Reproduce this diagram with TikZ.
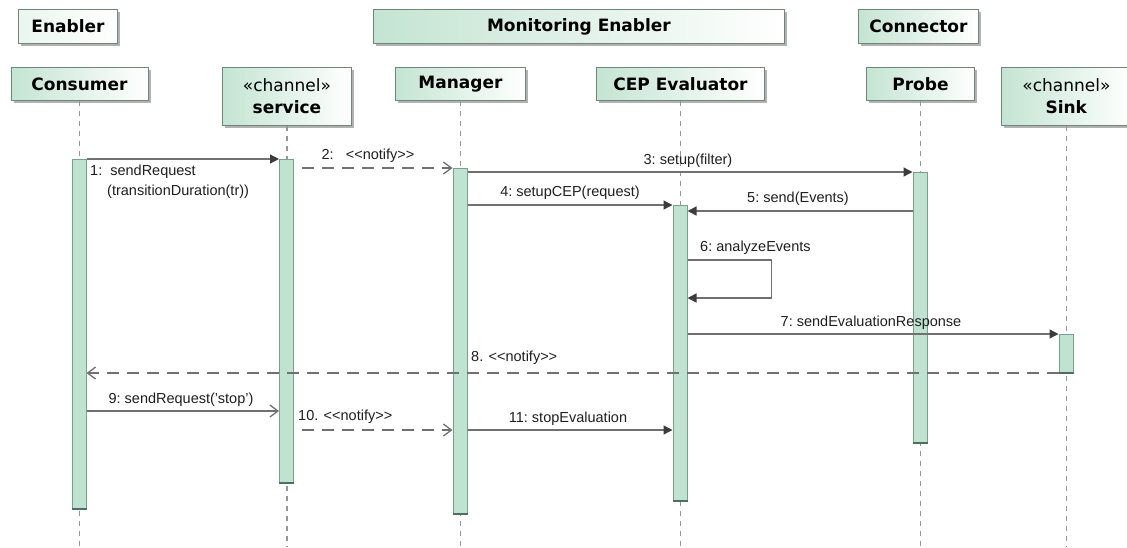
\documentclass[tikz,border=0pt]{standalone}
\usepackage{fontspec}
\setmainfont{Liberation Sans}
\newfontfamily\hdrfont{DejaVu Sans}
\usetikzlibrary{arrows.meta,shadows,calc}
\definecolor{actfill}{RGB}{192,226,208}
\definecolor{actdraw}{RGB}{120,160,140}
\definecolor{actbotc}{RGB}{80,110,95}
\definecolor{boxgreen}{RGB}{196,228,210}
\definecolor{boxdraw}{RGB}{110,135,120}
\definecolor{linegray}{RGB}{112,112,112}
\definecolor{lifegray}{RGB}{150,150,150}
\definecolor{tipgray}{RGB}{60,60,60}
\newcommand{\ntf}{<\kern0pt<\kern0pt notify>\kern0pt>}
\begin{document}
\begin{tikzpicture}[x=1pt,y=-1pt,
  hbox/.style={draw=boxdraw, line width=0.9pt, left color=boxgreen, right color=white,
    drop shadow={shadow xshift=3pt,shadow yshift=-3pt,fill=black!30,opacity=1},
    inner sep=0pt, anchor=north west, align=center,
    font=\hdrfont\fontsize{17}{22}\selectfont},
  gbox/.style={hbox, left color=boxgreen!35},
  life/.style={draw=lifegray, line width=1.4pt, dash pattern=on 5pt off 5pt},
  act/.style={draw=actdraw, fill=actfill, line width=1pt, inner sep=0pt,
    minimum width=14pt, anchor=north},
  actbot/.style={draw=actbotc, line width=1.6pt},
  msg/.style={draw=linegray, line width=1.3pt,
    -{Triangle[length=9pt,width=9pt,fill=tipgray,color=tipgray]}},
  ret/.style={draw=linegray, line width=1.3pt, dash pattern=on 12pt off 8pt,
    -{Straight Barb[length=8pt,width=12pt,line width=1.3pt]}},
  call/.style={draw=linegray, line width=1.3pt,
    -{Straight Barb[length=8pt,width=12pt,line width=1.3pt]}},
  lbl/.style={font=\fontsize{14.5}{17}\selectfont, text=black!88, inner sep=0pt}]
\useasboundingbox (0,0) rectangle (1127,547);
\fill[white] (0,0) rectangle (1127,547);

% group boxes
\node[gbox, minimum width=99pt, minimum height=34pt] (gEn) at (18,9) {\textbf{Enabler}};
\node[hbox, minimum width=411pt, minimum height=34pt] (gMon) at (373,9) {\textbf{Monitoring Enabler}};
\node[hbox, minimum width=120pt, minimum height=34pt] (gCon) at (858,9) {\textbf{Connector}};

% lifeline heads
\node[hbox, minimum width=137pt, minimum height=33pt] (hCons) at (10.5,67) {\textbf{Consumer}};
\node[hbox, minimum width=129pt, minimum height=58pt] (hServ) at (222,67) {«channel»\\\textbf{service}};
\node[hbox, minimum width=130pt, minimum height=33pt] (hMgr) at (395,67) {\textbf{Manager}};
\node[hbox, minimum width=168pt, minimum height=33pt] (hCep) at (596,67) {\textbf{CEP Evaluator}};
\node[hbox, minimum width=108pt, minimum height=33pt] (hProbe) at (866,67) {\textbf{Probe}};
\node[hbox, minimum width=130pt, minimum height=58pt] (hSink) at (1001,67) {«channel»\\\textbf{Sink}};

% lifelines
\coordinate (bot) at (0,547);
\foreach \h in {hCons,hServ,hMgr,hCep,hProbe,hSink}
  \draw[life] (\h.south) -- (\h.south |- bot);

% activations
\node[act, minimum height=349pt] (aCons) at (79,159) {};
\node[act, minimum height=323pt] (aServ) at (286.5,159) {};
\node[act, minimum height=345pt] (aMgr) at (460,168) {};
\node[act, minimum height=295pt] (aCep) at (680,205) {};
\node[act, minimum height=270pt] (aProbe) at (920,172) {};
\node[act, minimum height=38pt] (aSink) at (1066,334) {};
\foreach \a in {aCons,aServ,aMgr,aCep,aProbe,aSink}
  \draw[actbot] (\a.south west) -- (\a.south east);

% message levels
\coordinate (y5) at (0,211);
\coordinate (y6a) at (0,260);
\coordinate (y6b) at (0,298);
\coordinate (y9) at (0,411);
\coordinate (y10) at (0,430);

% messages
\draw[msg] (aCons.north east) -- (aServ.north west);
\draw[ret, dash phase=12pt] (aServ.east |- aMgr.north) -- (aMgr.north west);
\draw[msg] (aMgr.east |- aProbe.north) -- (aProbe.north west);
\draw[msg] (aMgr.east |- aCep.north) -- (aCep.north west);
\draw[msg] (aProbe.west |- y5) -- (aCep.east |- y5);
\draw[msg] (aCep.east |- y6a) -- ++(84,0) -- ++(0,38) -- (aCep.east |- y6b);
\draw[msg] (aCep.east |- aSink.north) -- (aSink.north west);
\draw[ret] (aSink.south west) -- (aCons.east |- aSink.south);
\draw[call] (aCons.east |- y9) -- (aServ.west |- y9);
\draw[ret, dash phase=12pt] (aServ.east |- y10) -- (aMgr.west |- y10);
\draw[msg] (aMgr.east |- y10) -- (aCep.west |- y10);

% labels
\node[lbl, anchor=west] (l1a) at (90,172) {1:\ \ sendRequest};
\node[lbl, anchor=west] (l1b) at (107,192) {(transitionDuration(tr))};
\node[lbl] (l2) at (368,156) {2:\ \ \ \ntf};
\node[lbl] (l3) at (688,161) {3:\ setup(filter)};
\node[lbl] (l4) at (570,193) {4:\ setupCEP(request)};
\node[lbl] (l5) at (798,199) {5:\ send(Events)};
\node[lbl, anchor=west] (l6) at (700,248) {6:\ analyzeEvents};
\node[lbl] (l7) at (871,323) {7:\ sendEvaluationResponse};
\node[lbl, anchor=west] (l8) at (471,358) {8. \ntf};
\node[lbl] (l9) at (181,400) {9:\ sendRequest('stop')};
\node[lbl, anchor=west] (l10) at (298,417) {10. \ntf};
\node[lbl] (l11) at (568,419) {11:\ stopEvaluation};
\end{tikzpicture}
\end{document}
